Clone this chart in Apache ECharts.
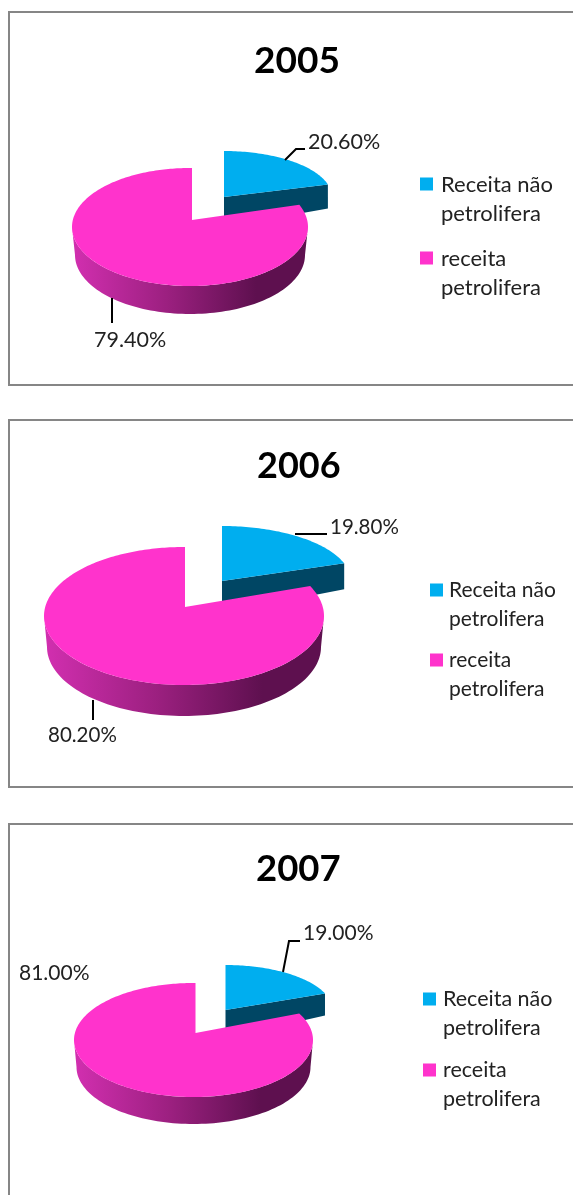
<!DOCTYPE html>
<html><head><meta charset="utf-8">
<style>html,body{margin:0;padding:0;background:#fff}#c{width:573px;height:1195px}</style>
<script src="https://cdn.jsdelivr.net/npm/echarts@6/dist/echarts.min.js"></script>
</head><body><div id="c"></div>
<script>
// ---- data ----
var years = ['2005', '2006', '2007'];
var categories = ['Receita não\npetrolifera', 'receita\npetrolifera'];
var nonOilShare = [20.6, 19.8, 19.0];
var oilShare = [79.4, 80.2, 81.0];

// ---- layout (pixels on the page) ----
var FONT = 'Lato, "Open Sans", sans-serif';
var layouts = [
  { frame:[9,12,700,373], titleTop:43, titleLeft:254, titleSize:37, labelSize:21.5, legendSize:22, legendPad:3,
    pie:{ax:192,ay:220,cx:190,cy:227,rx:118,ry:59,lrx:115,depth:28},
    wedge:{ax:224,ay:197,rx:108,ry:46,depth:24},
    wedgeLabel:{x:308,y:142,line:[[285,160],[296,149],[305,149]]},
    pieLabel:{x:94,y:340,line:[[112,298],[112,323]]},
    legend:{left:420,top:170,gap:16} },
  { frame:[9,420,700,367], titleTop:448, titleLeft:257, titleSize:36, labelSize:20.5, legendSize:21, legendPad:1,
    pie:{ax:185,ay:607,cx:184,cy:616,rx:140,ry:69,lrx:137,depth:31},
    wedge:{ax:222,ay:581,rx:129,ry:55,depth:26},
    wedgeLabel:{x:330,y:527,line:[[295,534],[327,534]]},
    pieLabel:{x:48,y:735,line:[[93,700],[93,720]]},
    legend:{left:430,top:576,gap:12} },
  { frame:[9,824,700,500], titleTop:851, titleLeft:256, titleSize:36.5, labelSize:21, legendSize:21.5, legendPad:2,
    pie:{ax:195.5,ay:1033,cx:193.5,cy:1040,rx:119.5,ry:57,lrx:117,depth:27},
    wedge:{ax:225.5,ay:1010,rx:107,ry:45,depth:22},
    wedgeLabel:{x:303,y:933,line:[[283,972],[289,941],[300,941]]},
    pieLabel:{x:19,y:973,line:null},
    legend:{left:423,top:985,gap:13} }
];
var BLUE='#00AEEF', BLUE_SIDE='#004664', PINK='#FF33CC';
var WALL={type:'linear',x:0,y:0,x2:1,y2:0,colorStops:[
  {offset:0,color:'#D22FB0'},{offset:0.4,color:'#9C2080'},{offset:0.78,color:'#5E104F'},{offset:1,color:'#5E104F'}]};

function pct(v){return v.toFixed(2)+'%';}
function angleOf(share){return share/100*2*Math.PI;}

// point on the pie's top ellipse seen from its (perspective-shifted) apex
function rim(p,t){
  var dx=p.rx*Math.sin(t), dy=-p.ry*Math.cos(t);
  var ox=(p.ax-p.cx)/p.rx, oy=(p.ay-p.cy)/p.ry, ux=dx/p.rx, uy=dy/p.ry;
  var a=ux*ux+uy*uy, b=2*(ox*ux+oy*uy), c=ox*ox+oy*oy-1;
  var s=(-b+Math.sqrt(b*b-4*a*c))/(2*a);
  return [p.ax+s*dx,p.ay+s*dy];
}
function labelEls(lab,text,size){
  var els=[];
  if(lab.line) els.push({type:'polyline',shape:{points:lab.line},style:{stroke:'#000',lineWidth:2,fill:null}});
  els.push({type:'text',style:{text:text,x:lab.x,y:lab.y,fill:'#222',font:size+'px '+FONT,textAlign:'left',textVerticalAlign:'middle'}});
  return els;
}
function renderWedge(L){
  return function(params,api){
    var share=api.value(0), end=angleOf(share), w=L.wedge, top=[[w.ax,w.ay]], i, n=60;
    for(i=0;i<=n;i++){var t=end*i/n; top.push([w.ax+w.rx*Math.sin(t),w.ay-w.ry*Math.cos(t)]);}
    var tip=top[top.length-1];
    var side=[[w.ax,w.ay],tip,[tip[0],tip[1]+w.depth],[w.ax,w.ay+w.depth+6]];
    return {type:'group',children:[
      {type:'polygon',shape:{points:side},style:{fill:BLUE_SIDE}},
      {type:'polygon',shape:{points:top},style:{fill:BLUE}}
    ].concat(labelEls(L.wedgeLabel,pct(share),L.labelSize))};
  };
}
function renderPie(L){
  return function(params,api){
    var share=api.value(0), p=L.pie, start=2*Math.PI-angleOf(share), top=[[p.ax,p.ay]], wall=[], i, n=240;
    for(i=0;i<=n;i++){ top.push(rim(p,start+(2*Math.PI-start)*i/n)); }
    for(i=0;i<=90;i++){var a=Math.PI/2+Math.PI*i/90; wall.push([p.cx+p.rx*Math.sin(a),p.cy-p.ry*Math.cos(a)]);}
    for(i=90;i>=0;i--){var b=Math.PI/2+Math.PI*i/90; wall.push([p.cx+p.lrx*Math.sin(b),p.cy+p.depth-p.ry*Math.cos(b)]);}
    return {type:'group',children:[
      {type:'polygon',shape:{points:wall},style:{fill:WALL}},
      {type:'polygon',shape:{points:top},style:{fill:PINK}}
    ].concat(labelEls(L.pieLabel,pct(share),L.labelSize))};
  };
}

var series=[], titles=[], legends=[], graphics=[];
years.forEach(function(y,i){
  var L=layouts[i];
  titles.push({text:y,left:L.titleLeft,top:L.titleTop,padding:0,
    textStyle:{fontFamily:FONT,fontSize:L.titleSize,fontWeight:'bold',color:'#000'}});
  legends.push({data:[categories[0],categories[1]].map(function(n){
      return {name:n,icon:'path://M0 0H13V13H0ZM0 43H13V43H0Z'};}),
    orient:'vertical',left:L.legend.left,top:L.legend.top,itemGap:L.legend.gap,
    itemWidth:13,itemHeight:43,padding:0,selectedMode:false,
    textStyle:{fontFamily:FONT,fontSize:L.legendSize,color:'#222',lineHeight:29,padding:[0,0,0,L.legendPad]}});
  graphics.push({type:'rect',shape:{x:L.frame[0],y:L.frame[1],width:L.frame[2],height:L.frame[3]},
    style:{fill:'#fff',stroke:'#868686',lineWidth:2},z:-1,silent:true});
  series.push({type:'custom',name:categories[0],coordinateSystem:'none',renderItem:renderWedge(L),
    data:[[nonOilShare[i]]],itemStyle:{color:BLUE},silent:true,z:2,animation:false});
  series.push({type:'custom',name:categories[1],coordinateSystem:'none',renderItem:renderPie(L),
    data:[[oilShare[i]]],itemStyle:{color:PINK},silent:true,z:3,animation:false});
});
var chart=echarts.init(document.getElementById('c'),null,{renderer:'canvas'});
chart.setOption({animation:false,backgroundColor:'#fff',title:titles,legend:legends,
  graphic:{elements:graphics},tooltip:{show:false},series:series});
</script></body></html>
